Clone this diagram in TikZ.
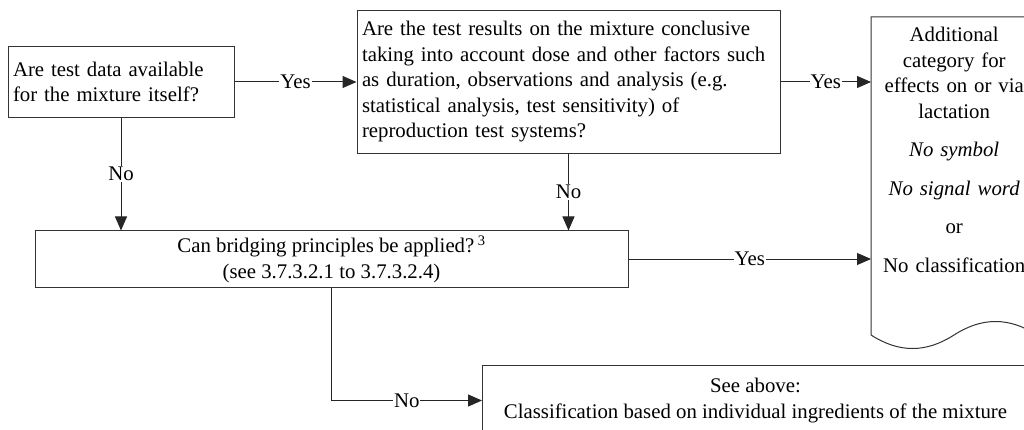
\documentclass[tikz,border=0pt]{standalone}
\usepackage{fontspec}
\setmainfont{Liberation Serif}
\usetikzlibrary{arrows.meta, positioning, calc}

\begin{document}
\begin{tikzpicture}[
  x = 1pt, y = -1pt,
  every node/.style = {font=\fontsize{20.8}{25.5}\selectfont},
  question/.style = {draw=black!80, line width=1pt, rectangle,
                     align=left, inner sep=5pt},
  decision/.style = {draw=black!80, line width=1pt, rectangle,
                     align=center, inner sep=4pt},
  outcome/.style  = {rectangle, align=center,
                     inner xsep=4pt, inner ysep=10pt,
                     text width=158pt, minimum width=166pt},
  docline/.style  = {draw=black!80, line width=1pt},
  arr/.style      = {-{Triangle[length=14pt, width=12pt]},
                     line width=1pt, draw=black!85},
  lbl/.style      = {fill=white, inner sep=1pt}
]

\useasboundingbox (0,0) rectangle (1024,430);
\clip (0,0) rectangle (1024,430);

%── Row 1 (data -> conclusive -> outcome) ─────────────────────────────────
\node[question, text width=216pt, minimum height=71pt] (data_q) at (121,82)
  {Are test data available\\
   for the mixture itself?};

\node[question, right=122pt of data_q, text width=413pt, minimum height=143pt] (result_q)
  {Are the test results on the mixture conclusive\\
   taking into account dose and other factors such\\
   as duration, observations and analysis (e.g.\\
   statistical analysis, test sensitivity) of\\
   reproduction test systems?};

\node[outcome, anchor=north west] (doc_out) at (871,17)
  {Additional\\ category for\\ effects on or via\\ lactation\\[13pt]
   \textit{No symbol}\\[13pt]
   \textit{No signal word}\\[13pt]
   or\\[13pt]
   No classification};

\draw[docline] (doc_out.north west) -- ++(0,318)
  .. controls +(28,18) and +(-28,18) .. ++(83,0)
  .. controls +(28,-18) and +(-28,-18) .. ++(83,0)
  -- (doc_out.north east) -- cycle;

%── Row 2 (bridging) ──────────────────────────────────────────────────────
\node[decision, minimum width=593pt, minimum height=56pt] (bridge_q) at (331.5,259)
  {Can bridging principles be applied?\,\textsuperscript{3}\\
   (see 3.7.3.2.1 to 3.7.3.2.4)};

%── Row 3 (ingredients) ───────────────────────────────────────────────────
\node[decision, anchor=north west, minimum width=546pt, minimum height=70pt] (ingr_out) at (482,365)
  {See above:\\
   Classification based on individual ingredients of the mixture};

%── Arrows ────────────────────────────────────────────────────────────────
\draw[arr] (data_q) -- node[lbl] {Yes} (result_q);

\draw[arr] (result_q.east) -- node[lbl] {Yes} (result_q.east -| doc_out.west);

\draw[arr] (data_q) -- node[lbl] {No} (data_q |- bridge_q.north);

\draw[arr] (result_q) -- node[lbl] {No} (result_q |- bridge_q.north);

\draw[arr] (bridge_q) -- node[lbl] {Yes} (bridge_q -| doc_out.west);

\draw[arr] (bridge_q) |- node[lbl, pos=0.75] {No} (ingr_out);

\end{tikzpicture}
\end{document}
